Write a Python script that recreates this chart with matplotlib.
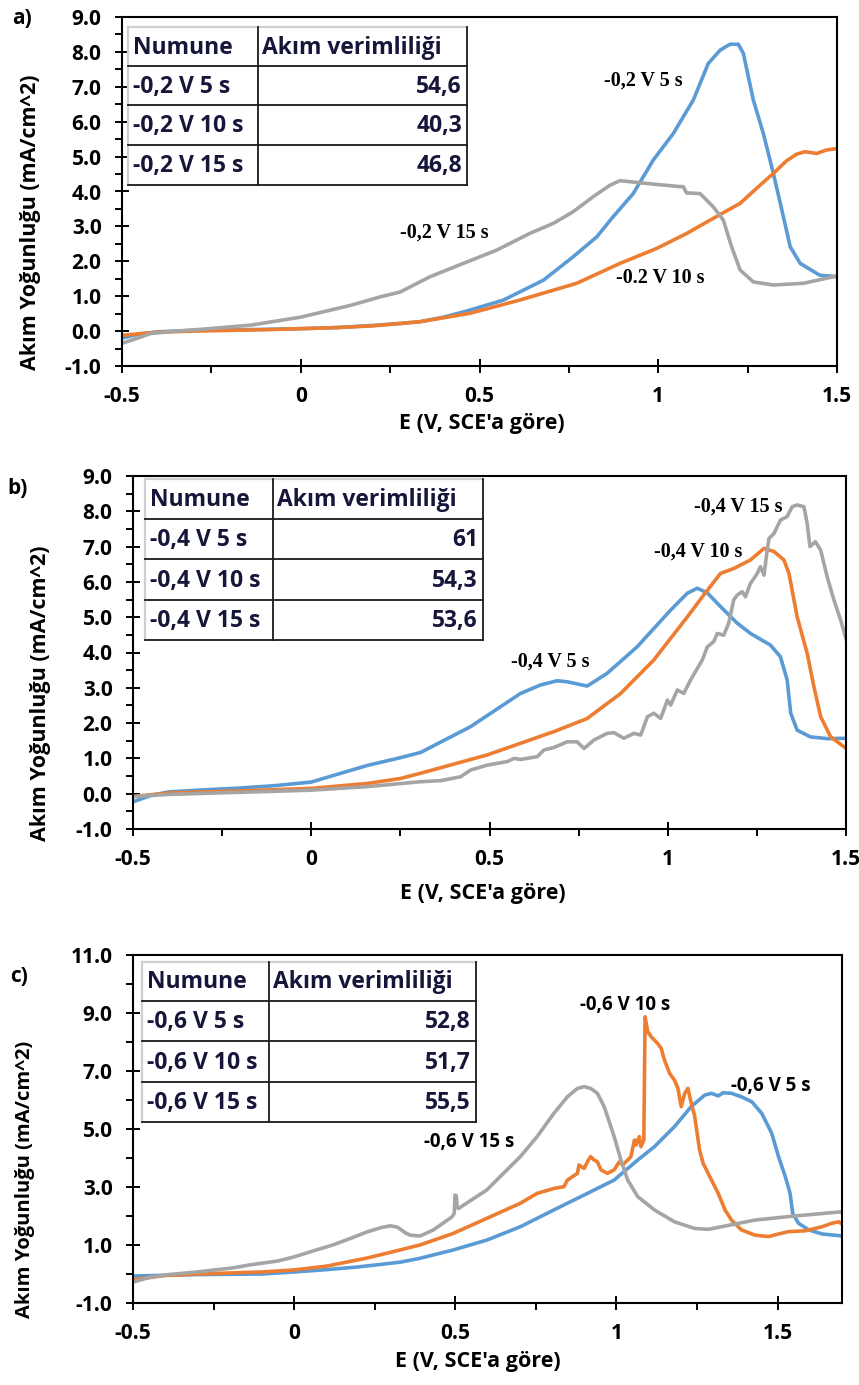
import matplotlib
matplotlib.use("Agg")
import numpy as np
import matplotlib.pyplot as plt
from matplotlib.ticker import MultipleLocator, FixedLocator, FuncFormatter
from matplotlib.lines import Line2D
from matplotlib.patches import Rectangle

# ---------------------------------------------------------------- data
# (a) -0,2 V deposits
a_5s_E = [-0.5, -0.45, -0.4, -0.3, -0.1, 0.0, 0.1, 0.2, 0.28, 0.334, 0.40, 0.473, 0.567, 0.679,
          0.762, 0.828, 0.874, 0.930, 0.986, 1.042, 1.098, 1.140, 1.173, 1.201, 1.224,
          1.238, 1.266, 1.294, 1.322, 1.350, 1.369, 1.397, 1.452, 1.500]
a_5s_i = [-0.20, -0.08, -0.02, 0.02, 0.05, 0.07, 0.10, 0.16, 0.22, 0.27, 0.40, 0.60, 0.89, 1.46,
          2.13, 2.70, 3.28, 3.94, 4.90, 5.66, 6.62, 7.67, 8.05, 8.22, 8.22,
          7.96, 6.62, 5.66, 4.52, 3.28, 2.42, 1.94, 1.60, 1.56]
a_10s_E = [-0.5, -0.4, -0.3, -0.1, 0.0, 0.1, 0.2, 0.28, 0.334, 0.473, 0.613, 0.772, 0.893,
           0.996, 1.080, 1.145, 1.229, 1.275, 1.322, 1.359, 1.387, 1.410, 1.443, 1.471, 1.500]
a_10s_i = [-0.12, -0.03, 0.00, 0.04, 0.07, 0.10, 0.15, 0.22, 0.27, 0.51, 0.89, 1.37, 1.94,
           2.37, 2.80, 3.18, 3.66, 4.09, 4.52, 4.88, 5.07, 5.14, 5.09, 5.19, 5.23]
a_15s_E = [-0.5, -0.45, -0.42, -0.35, -0.28, -0.14, 0.0, 0.14, 0.222, 0.278, 0.362, 0.455,
           0.548, 0.641, 0.707, 0.762, 0.818, 0.865, 0.893, 0.968, 1.061, 1.070, 1.079,
           1.117, 1.154, 1.182, 1.205, 1.229, 1.266, 1.322, 1.406, 1.500]
a_15s_i = [-0.35, -0.18, -0.07, 0.00, 0.05, 0.17, 0.40, 0.74, 0.98, 1.12, 1.56, 1.94,
           2.32, 2.80, 3.09, 3.42, 3.85, 4.18, 4.31, 4.23, 4.14, 4.14, 3.96,
           3.94, 3.56, 3.18, 2.42, 1.75, 1.41, 1.32, 1.37, 1.58]

# (b) -0,4 V deposits
b_5s_E = [-0.5, -0.45, -0.4, -0.3, -0.2, -0.1, 0.0, 0.157, 0.25, 0.307, 0.447, 0.587, 0.643,
          0.690, 0.718, 0.774, 0.830, 0.914, 1.008, 1.055, 1.083, 1.111, 1.148, 1.195,
          1.232, 1.288, 1.316, 1.335, 1.345, 1.363, 1.400, 1.447, 1.501]
b_5s_i = [-0.23, -0.05, 0.05, 0.11, 0.16, 0.23, 0.33, 0.80, 1.02, 1.17, 1.90, 2.84, 3.08,
          3.20, 3.17, 3.05, 3.41, 4.16, 5.20, 5.68, 5.82, 5.69, 5.30, 4.83,
          4.54, 4.21, 3.88, 3.22, 2.28, 1.80, 1.61, 1.56, 1.57]
b_10s_E = [-0.5, -0.4, -0.2, 0.0, 0.157, 0.25, 0.307, 0.494, 0.681, 0.774, 0.868, 0.961,
           1.055, 1.101, 1.148, 1.185, 1.232, 1.270, 1.298, 1.326, 1.340, 1.363, 1.391,
           1.410, 1.429, 1.457, 1.501]
b_10s_i = [-0.08, 0.02, 0.08, 0.15, 0.29, 0.43, 0.58, 1.10, 1.76, 2.13, 2.84, 3.79,
           5.01, 5.63, 6.24, 6.38, 6.62, 6.95, 6.86, 6.62, 6.24, 5.01, 3.98,
           3.03, 2.18, 1.61, 1.28]
b_15s_E = [-0.5, -0.4, -0.2, 0.0, 0.157, 0.307, 0.363, 0.419, 0.447, 0.494, 0.550, 0.569,
           0.587, 0.634, 0.653, 0.681, 0.718, 0.746, 0.765, 0.793, 0.830, 0.849, 0.877,
           0.905, 0.924, 0.943, 0.961, 0.980, 0.999, 1.008, 1.027, 1.045, 1.064, 1.083,
           1.097, 1.111, 1.129, 1.139, 1.157, 1.171, 1.185, 1.195, 1.209, 1.218, 1.232,
           1.242, 1.251, 1.260, 1.270, 1.279, 1.284, 1.298, 1.316, 1.335, 1.349, 1.363,
           1.382, 1.391, 1.399, 1.414, 1.429, 1.447, 1.466, 1.485, 1.501]
b_15s_i = [-0.08, -0.02, 0.04, 0.10, 0.20, 0.34, 0.37, 0.48, 0.67, 0.81, 0.91, 1.00,
           0.97, 1.05, 1.24, 1.31, 1.47, 1.47, 1.28, 1.52, 1.71, 1.73, 1.57,
           1.71, 1.66, 2.18, 2.28, 2.13, 2.65, 2.51, 2.94, 2.84, 3.22, 3.55,
           3.79, 4.16, 4.31, 4.54, 4.49, 4.83, 5.49, 5.63, 5.72, 5.58, 5.96,
           6.10, 6.24, 6.43, 6.19, 6.90, 7.23, 7.37, 7.75, 7.85, 8.13, 8.18,
           8.13, 7.66, 7.00, 7.14, 6.90, 6.15, 5.49, 4.92, 4.35]

# (c) -0,6 V deposits
c_5s_E = [-0.5, -0.3, -0.1, 0.0, 0.1, 0.195, 0.26, 0.33, 0.390, 0.494, 0.598, 0.702, 0.806,
          0.910, 0.993, 1.066, 1.118, 1.180, 1.232, 1.274, 1.295, 1.316, 1.331, 1.357,
          1.388, 1.420, 1.451, 1.482, 1.503, 1.524, 1.539, 1.547, 1.565, 1.597, 1.638, 1.703]
c_5s_i = [-0.07, -0.02, 0.00, 0.07, 0.15, 0.24, 0.32, 0.41, 0.54, 0.83, 1.17, 1.63, 2.21,
          2.78, 3.24, 3.93, 4.39, 5.08, 5.77, 6.17, 6.23, 6.14, 6.25, 6.23,
          6.11, 5.94, 5.54, 4.85, 4.05, 3.36, 2.78, 2.09, 1.75, 1.52, 1.38, 1.31]
c_10s_E = [-0.5, -0.4, -0.3, -0.1, 0.0, 0.1, 0.226, 0.3, 0.390, 0.494, 0.598, 0.702, 0.754,
           0.806, 0.837, 0.848, 0.879, 0.884, 0.900, 0.910, 0.920, 0.931, 0.941, 0.952,
           0.972, 0.993, 1.009, 1.019, 1.035, 1.045, 1.056, 1.061, 1.071, 1.076, 1.085,
           1.089, 1.097, 1.108, 1.128, 1.139, 1.149, 1.165, 1.180, 1.191, 1.201, 1.212,
           1.222, 1.230, 1.243, 1.258, 1.269, 1.295, 1.316, 1.337, 1.357, 1.388, 1.430,
           1.472, 1.503, 1.534, 1.586, 1.638, 1.669, 1.690, 1.703]
c_10s_i = [-0.20, -0.05, 0.00, 0.07, 0.14, 0.27, 0.55, 0.75, 1.00, 1.40, 1.92, 2.44, 2.78,
           2.95, 3.01, 3.24, 3.47, 3.76, 3.64, 3.87, 4.05, 3.93, 3.87, 3.59,
           3.47, 3.59, 3.87, 3.76, 3.93, 4.05, 4.62, 4.45, 4.74, 4.39, 4.62,
           8.87, 8.36, 8.18, 7.95, 7.78, 7.38, 6.92, 6.69, 6.40, 5.77, 6.23,
           6.40, 6.00, 5.43, 4.28, 3.82, 3.24, 2.78, 2.21, 1.86, 1.52, 1.34,
           1.29, 1.38, 1.46, 1.49, 1.63, 1.75, 1.80, 1.69]
c_15s_E = [-0.5, -0.45, -0.4, -0.3, -0.19, -0.14, -0.05, 0.0, 0.06, 0.12, 0.18, 0.226, 0.27,
           0.298, 0.32, 0.345, 0.36, 0.391, 0.432, 0.49, 0.497, 0.499, 0.503, 0.506, 0.51,
           0.598, 0.702, 0.754, 0.806, 0.848, 0.879, 0.900, 0.920, 0.941, 0.962, 0.993,
           1.014, 1.035, 1.066, 1.118, 1.180, 1.243, 1.285, 1.326, 1.430, 1.534, 1.703]
c_15s_i = [-0.28, -0.12, -0.03, 0.07, 0.21, 0.31, 0.45, 0.59, 0.80, 1.00, 1.25, 1.45, 1.60,
           1.66, 1.62, 1.42, 1.34, 1.31, 1.52, 1.97, 2.10, 2.72, 2.70, 2.30, 2.26,
           2.90, 4.05, 4.74, 5.54, 6.11, 6.40, 6.46, 6.40, 6.23, 5.77, 4.74,
           3.93, 3.24, 2.67, 2.21, 1.80, 1.57, 1.54, 1.63, 1.86, 1.98, 2.15]

# efficiency tables
a_samples = ["-0,2 V 5 s", "-0,2 V 10 s", "-0,2 V 15 s"]
a_efficiency = [54.6, 40.3, 46.8]
b_samples = ["-0,4 V 5 s", "-0,4 V 10 s", "-0,4 V 15 s"]
b_efficiency = [61, 54.3, 53.6]
c_samples = ["-0,6 V 5 s", "-0,6 V 10 s", "-0,6 V 15 s"]
c_efficiency = [52.8, 51.7, 55.5]
table_header = ["Numune", "Akım verimliliği"]

# curve labels: (text, E, i)
a_notes = [("-0,2 V 5 s", 0.959, 7.19), ("-0.2 V 10 s", 1.005, 1.52), ("-0,2 V 15 s", 0.402, 2.81)]
b_notes = [("-0,4 V 15 s", 1.197, 8.13), ("-0,4 V 10 s", 1.085, 6.86), ("-0,4 V 5 s", 0.671, 3.74)]
c_notes = [("-0,6 V 10 s", 1.026, 9.28), ("-0,6 V 5 s", 1.479, 6.48), ("-0,6 V 15 s", 0.544, 4.56)]

# ---------------------------------------------------------------- style
W, H = 859, 1385
fig = plt.figure(figsize=(W / 100, H / 100), dpi=100)
SANS = ["Open Sans", "DejaVu Sans"]
SERIF = ["Liberation Serif", "DejaVu Serif"]
BLUE, ORANGE, GRAY = "#5B9BD5", "#ED7D31", "#A5A5A5"
INK = "#16163a"
LW = 2.6


def fx(px):
    return px / W


def fy(py):
    return 1 - py / H


def make_axes(left, top, right, bottom):
    return fig.add_axes([fx(left), fy(bottom), fx(right) - fx(left), fy(top) - fy(bottom)])


def style_axes(ax, xlim, ylim, yticks, yminor):
    ax.set_xlim(*xlim)
    ax.set_ylim(*ylim)
    ax.xaxis.set_major_locator(MultipleLocator(0.5))
    ax.xaxis.set_minor_locator(MultipleLocator(0.25))
    ax.yaxis.set_major_locator(FixedLocator(yticks))
    ax.yaxis.set_minor_locator(MultipleLocator(yminor))
    ax.xaxis.set_major_formatter(FuncFormatter(lambda v, p: f"{v:g}"))
    ax.yaxis.set_major_formatter(FuncFormatter(lambda v, p: f"{v:.1f}"))
    for s in ax.spines.values():
        s.set_linewidth(1.5)
    ax.tick_params(which="major", direction="inout", length=9.5, width=1.4, pad=10)
    ax.tick_params(which="minor", direction="out", length=5, width=1.4)
    ax.tick_params(axis="x", which="major", pad=10)
    for lab in ax.get_xticklabels() + ax.get_yticklabels():
        lab.set_fontfamily(SANS)
        lab.set_fontweight("bold")
        lab.set_fontsize(15)


def plot_series(ax, series):
    for E, i, col in series:
        ax.plot(E, i, color=col, lw=LW, solid_joinstyle="round", solid_capstyle="round")


def draw_table(left, right, split, rows_y, samples, values):
    fs = 16.5
    fig.add_artist(Rectangle((fx(left), fy(rows_y[-1])), fx(right) - fx(left),
                             fy(rows_y[0]) - fy(rows_y[-1]), transform=fig.transFigure,
                             facecolor="white", edgecolor="none", zorder=5))
    # light outer edge along top and left, dark rules elsewhere
    fig.add_artist(Line2D([fx(left), fx(right)], [fy(rows_y[0])] * 2, transform=fig.transFigure,
                          color="#cfcfcf", lw=1.6, zorder=6))
    fig.add_artist(Line2D([fx(left)] * 2, [fy(rows_y[0]), fy(rows_y[-1])], transform=fig.transFigure,
                          color="#cfcfcf", lw=1.6, zorder=6))
    for y in rows_y[1:]:
        fig.add_artist(Line2D([fx(left), fx(right)], [fy(y)] * 2, transform=fig.transFigure,
                              color="#1a1a1a", lw=1.3, zorder=6))
    fig.add_artist(Line2D([fx(right)] * 2, [fy(rows_y[0]), fy(rows_y[-1])], transform=fig.transFigure,
                          color="#1a1a1a", lw=1.3, zorder=6))
    fig.add_artist(Line2D([fx(split)] * 2, [fy(rows_y[0]), fy(rows_y[-1])], transform=fig.transFigure,
                          color="#1a1a1a", lw=1.3, zorder=6))
    cells = [(table_header[0], table_header[1], "left")]
    for s, v in zip(samples, values):
        cells.append((s, f"{v:g}".replace(".", ","), "right"))
    for k, (c1, c2, ha2) in enumerate(cells):
        yc = fy((rows_y[k] + rows_y[k + 1]) / 2 + 1)
        fig.text(fx(left + 5), yc, c1, ha="left", va="center", fontsize=fs,
                 fontweight="bold", family=SANS, color=INK, zorder=7)
        x2 = fx(split + 4) if ha2 == "left" else fx(right - 5)
        fig.text(x2, yc, c2, ha=ha2, va="center", fontsize=fs,
                 fontweight="bold", family=SANS, color=INK, zorder=7)


def annotate(ax, notes, family, size):
    for text, E, i in notes:
        ax.text(E, i, text, ha="center", va="center", fontsize=size,
                fontweight="bold", family=family, color="black")


YLABEL = "Akım Yoğunluğu (mA/cm^2)"
XLABEL = "E (V, SCE'a göre)"

# ---------------------------------------------------------------- panel a
ax_a = make_axes(122, 17, 837, 366)
plot_series(ax_a, [(a_5s_E, a_5s_i, BLUE), (a_10s_E, a_10s_i, ORANGE), (a_15s_E, a_15s_i, GRAY)])
style_axes(ax_a, (-0.5, 1.5), (-1, 9), np.arange(-1, 9.5, 1), 0.5)
annotate(ax_a, a_notes, SERIF, 14.5)
draw_table(128, 467, 258, [27, 66, 105, 145, 185], a_samples, a_efficiency)
fig.text(fx(22), fy(19), "a)", fontsize=15, fontweight="bold", family=SANS, ha="center", va="center")
fig.text(fx(31), fy(222), YLABEL, rotation=90, fontsize=15.5, fontweight="bold", family=SANS,
         ha="center", va="center")
fig.text(fx(482), fy(423), XLABEL, fontsize=15.5, fontweight="bold", family=SANS,
         ha="center", va="center")

# ---------------------------------------------------------------- panel b
ax_b = make_axes(133, 476, 846, 829)
plot_series(ax_b, [(b_5s_E, b_5s_i, BLUE), (b_10s_E, b_10s_i, ORANGE), (b_15s_E, b_15s_i, GRAY)])
style_axes(ax_b, (-0.5, 1.5), (-1, 9), np.arange(-1, 9.5, 1), 0.5)
annotate(ax_b, b_notes, SERIF, 14.5)
draw_table(145, 483, 273, [479, 519, 559, 600, 640], b_samples, b_efficiency)
fig.text(fx(18), fy(488), "b)", fontsize=15, fontweight="bold", family=SANS, ha="center", va="center")
fig.text(fx(41), fy(693), YLABEL, rotation=90, fontsize=15.5, fontweight="bold", family=SANS,
         ha="center", va="center")
fig.text(fx(483), fy(893), XLABEL, fontsize=15.5, fontweight="bold", family=SANS,
         ha="center", va="center")

# ---------------------------------------------------------------- panel c
ax_c = make_axes(133, 955, 842, 1303)
plot_series(ax_c, [(c_5s_E, c_5s_i, BLUE), (c_10s_E, c_10s_i, ORANGE), (c_15s_E, c_15s_i, GRAY)])
style_axes(ax_c, (-0.5, 1.7), (-1, 11), np.arange(-1, 11.5, 2), 1)
annotate(ax_c, c_notes, SANS, 13.5)
draw_table(142, 476, 269, [962, 1001, 1041, 1082, 1122], c_samples, c_efficiency)
fig.text(fx(19), fy(976), "c)", fontsize=15, fontweight="bold", family=SANS, ha="center", va="center")
fig.text(fx(25), fy(1179), YLABEL, rotation=90, fontsize=14.5, fontweight="bold", family=SANS,
         ha="center", va="center")
fig.text(fx(478), fy(1362), XLABEL, fontsize=15.5, fontweight="bold", family=SANS,
         ha="center", va="center")

fig.savefig("out.png", dpi=100)
